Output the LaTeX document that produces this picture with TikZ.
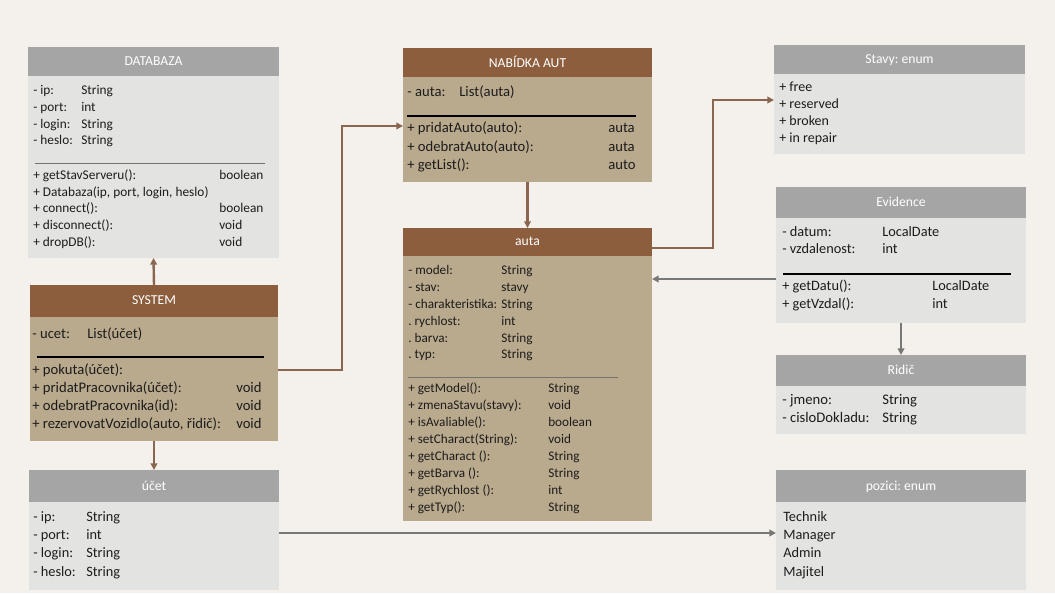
\documentclass[tikz,border=0pt]{standalone}
\usepackage{fontspec}
\setmainfont{Carlito}
\usetikzlibrary{arrows.meta,fit}
\frenchspacing
\definecolor{bgc}{HTML}{F4F1EC}
\definecolor{hgray}{HTML}{A5A5A5}
\definecolor{bgray}{HTML}{E3E4E2}
\definecolor{hbrown}{HTML}{8C5E3D}
\definecolor{btan}{HTML}{BAAA8D}
\definecolor{cbrown}{HTML}{8A6650}
\definecolor{cgray}{HTML}{787878}
\definecolor{txtc}{HTML}{1C1C1C}
\def\bfs{10.25}
\tikzset{
  boxbase/.style={draw=none, inner sep=0pt, outer sep=0pt},
  hdrgray/.style={boxbase, fill=hgray},
  hdrbrown/.style={boxbase, fill=hbrown},
  hdrtxt/.style={anchor=center, inner sep=0pt, text=white, font=\fontsize{10.25}{12}\selectfont},
  bodygray/.style={boxbase, fill=bgray},
  bodytan/.style={boxbase, fill=btan},
  txt/.style={anchor=base west, inner sep=0pt, text=txtc, font=\fontsize{\bfs}{12}\selectfont},
  septhin/.style={draw=black!55, line width=0.5pt},
  septhick/.style={draw=black, line width=0.9pt},
  conbrown/.style={draw=cbrown, line width=1.8pt, -{Triangle[length=5pt,width=5pt]}},
  congray/.style={draw=cgray, line width=1.8pt, -{Triangle[length=5pt,width=5pt]}},
}
\newcommand{\Lt}[4]{\node[txt] (#1) at (#2,#3+4.3) {#4};}
\newcommand{\Hd}[3]{\node[hdrtxt] (#1) at ([yshift=-0.4pt]#2.center) {\vphantom{Ay}#3};}
\begin{document}
\begin{tikzpicture}[x=0.75pt,y=-0.75pt]
\fill[bgc] (0,0) rectangle (1055,593);
\useasboundingbox (0,0) rectangle (1055,593);

% ---------- DATABAZA ----------
\def\bfs{10}
\node[hdrgray, fit={(28,47) (279,76)}] (dbh) {};
\Hd{dbt}{dbh}{DATABAZA}
\node[bodygray, fit={(28,76) (279,258)}] (dbb) {};
\Lt{db1}{33}{90}{- ip:}      \Lt{db1t}{81}{90}{String}
\Lt{db2}{33}{107}{- port:}   \Lt{db2t}{81}{107}{int}
\Lt{db3}{33}{124}{- login:}  \Lt{db3t}{81}{124}{String}
\Lt{db4}{33}{140}{- heslo:}  \Lt{db4t}{81}{140}{String}
\draw[septhin] (35,163) -- (265,163);
\Lt{db5}{33}{175}{+ getStavServeru():} \Lt{db5t}{219}{175}{boolean}
\Lt{db6}{33}{192}{+ Databaza(ip, port, login, heslo)}
\Lt{db7}{33}{208}{+ connect():}    \Lt{db7t}{219}{208}{boolean}
\Lt{db8}{33}{225}{+ disconnect():} \Lt{db8t}{219}{225}{void}
\Lt{db9}{33}{242}{+ dropDB():}     \Lt{db9t}{219}{242}{void}

% ---------- SYSTEM ----------
\def\bfs{11}
\node[hdrbrown, fit={(30,285) (278,317)}] (sysh) {};
\Hd{syt}{sysh}{SYSTEM}
\node[bodytan, fit={(30,317) (278,441)}] (sysb) {};
\Lt{sy1}{32}{334}{- ucet:} \Lt{sy1t}{87}{334}{List(účet)}
\draw[septhick] (37,357) -- (264,357);
\Lt{sy2}{32}{370}{+ pokuta(účet):}
\Lt{sy3}{32}{388}{+ pridatPracovnika(účet):} \Lt{sy3t}{236}{388}{void}
\Lt{sy4}{32}{406}{+ odebratPracovnika(id):} \Lt{sy4t}{236}{406}{void}
\Lt{sy5}{32}{424}{+ rezervovatVozidlo(auto, řidič):} \Lt{sy5t}{236}{424}{void}

% ---------- účet ----------
\def\bfs{10.75}
\node[hdrgray, fit={(29,470) (279,502)}] (uch) {};
\Hd{uct}{uch}{účet}
\node[bodygray, fit={(29,502) (279,590)}] (ucb) {};
\Lt{uc1}{33}{517}{- ip:}     \Lt{uc1t}{86}{517}{String}
\Lt{uc2}{33}{535}{- port:}   \Lt{uc2t}{86}{535}{int}
\Lt{uc3}{33}{553}{- login:}  \Lt{uc3t}{86}{553}{String}
\Lt{uc4}{33}{572}{- heslo:}  \Lt{uc4t}{86}{572}{String}

% ---------- NABÍDKA AUT ----------
\def\bfs{11}
\node[hdrbrown, fit={(403,48) (652,77)}] (nabh) {};
\Hd{nat}{nabh}{NABÍDKA AUT}
\node[bodytan, fit={(403,77) (652,182)}] (nabb) {};
\Lt{na1}{407}{92}{- auta:} \Lt{na1t}{459}{92}{List(auta)}
\draw[septhick] (407,116) -- (636,116);
\Lt{na2}{407}{128}{+ pridatAuto(auto):}  \Lt{na2t}{608}{128}{auta}
\Lt{na3}{407}{147}{+ odebratAuto(auto):} \Lt{na3t}{608}{147}{auta}
\Lt{na4}{407}{165}{+ getList():}         \Lt{na4t}{608}{165}{auto}

% ---------- auta ----------
\def\bfs{9.9}
\node[hdrbrown, fit={(403,228) (652,256)}] (autah) {};
\Hd{aut}{autah}{auta}
\node[bodytan, fit={(403,256) (652,521)}] (autab) {};
\Lt{au1}{408}{270}{- model:}            \Lt{au1t}{501}{270}{String}
\Lt{au2}{408}{287}{- stav:}             \Lt{au2t}{501}{287}{stavy}
\Lt{au3}{408}{304}{- charakteristika:}  \Lt{au3t}{501}{304}{String}
\Lt{au4}{408}{321}{. rychlost:}         \Lt{au4t}{501}{321}{int}
\Lt{au5}{408}{338}{. barva:}            \Lt{au5t}{501}{338}{String}
\Lt{au6}{408}{354}{. typ:}              \Lt{au6t}{501}{354}{String}
\draw[septhin] (408,377) -- (618,377);
\Lt{au7}{408}{388}{+ getModel():}          \Lt{au7t}{548}{388}{String}
\Lt{au8}{408}{405}{+ zmenaStavu(stavy):}   \Lt{au8t}{548}{405}{void}
\Lt{au9}{408}{422}{+ isAvaliable():}       \Lt{au9t}{548}{422}{boolean}
\Lt{au10}{408}{439}{+ setCharact(String):} \Lt{au10t}{548}{439}{void}
\Lt{au11}{408}{456}{+ getCharact ():}      \Lt{au11t}{548}{456}{String}
\Lt{au12}{408}{473}{+ getBarva ():}        \Lt{au12t}{548}{473}{String}
\Lt{au13}{408}{490}{+ getRychlost ():}     \Lt{au13t}{548}{490}{int}
\Lt{au14}{408}{507}{+ getTyp():}           \Lt{au14t}{548}{507}{String}

% ---------- Stavy ----------
\def\bfs{10.5}
\node[hdrgray, fit={(774,45) (1025,74)}] (sth) {};
\Hd{stt}{sth}{Stavy: enum}
\node[bodygray, fit={(774,74) (1025,154)}] (stb) {};
\Lt{st1}{779}{87}{+ free}
\Lt{st2}{779}{104}{+ reserved}
\Lt{st3}{779}{121}{+ broken}
\Lt{st4}{779}{138}{+ in repair}

% ---------- Evidence ----------
\def\bfs{10.75}
\node[hdrgray, fit={(776,187) (1026,218)}] (evh) {};
\Hd{evt}{evh}{Evidence}
\node[bodygray, fit={(776,218) (1026,323)}] (evb) {};
\Lt{ev1}{782}{232}{- datum:}      \Lt{ev1t}{882}{232}{LocalDate}
\Lt{ev2}{782}{249}{- vzdalenost:} \Lt{ev2t}{882}{249}{int}
\draw[septhick] (783,274) -- (1011,274);
\Lt{ev3}{782}{286}{+ getDatu():}  \Lt{ev3t}{932}{286}{LocalDate}
\Lt{ev4}{782}{304}{+ getVzdal():} \Lt{ev4t}{932}{304}{int}

% ---------- Ridič ----------
\def\bfs{11}
\node[hdrgray, fit={(776,355) (1026,386)}] (rih) {};
\Hd{rit}{rih}{Ridič}
\node[bodygray, fit={(776,386) (1026,434)}] (rib) {};
\Lt{ri1}{782}{400}{- jmeno:}         \Lt{ri1t}{882}{400}{String}
\Lt{ri2}{782}{418}{- cisloDokladu:}  \Lt{ri2t}{882}{418}{String}

% ---------- pozici ----------
\def\bfs{10.75}
\node[hdrgray, fit={(776,470) (1026,502)}] (poh) {};
\Hd{pot}{poh}{pozici: enum}
\node[bodygray, fit={(776,502) (1026,590)}] (pob) {};
\Lt{po1}{783}{517}{Technik}
\Lt{po2}{783}{535}{Manager}
\Lt{po3}{783}{553}{Admin}
\Lt{po4}{783}{572}{Majitel}

% ---------- connectors ----------
\draw[conbrown] (sysh.north) -- (dbb.south);
\draw[conbrown] (sysb.south) -- (uch.north);
\coordinate (ysys) at (0,370);
\coordinate (bend1) at (342,126);
\draw[conbrown] (ysys -| sysb.east) -| (bend1) -- (bend1 -| nabb.west);
\draw[conbrown] (nabb.south) -- (autah.north);
\coordinate (yauta) at (0,248);
\coordinate (bend2) at (713,100);
\draw[conbrown] (yauta -| autah.east) -| (bend2) -- (bend2 -| stb.west);
\coordinate (yev) at (0,279);
\draw[congray] (yev -| evb.west) -- (yev -| autab.east);
\draw[congray] (evb.south) -- (rih.north);
\coordinate (yuc) at (0,533);
\draw[congray] (yuc -| ucb.east) -- (yuc -| pob.west);
\end{tikzpicture}
\end{document}
